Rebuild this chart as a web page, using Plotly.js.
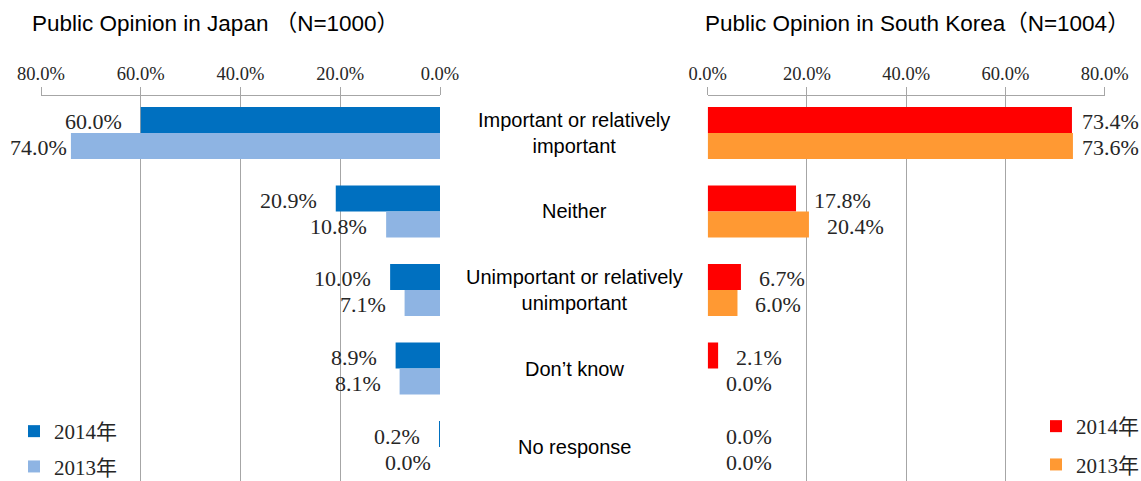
<!DOCTYPE html>
<html>
<head>
<meta charset="utf-8">
<script src="https://cdn.plot.ly/plotly-3.0.1.min.js"></script>
<style>html,body{margin:0;padding:0;background:#fff;overflow:hidden;}</style>
</head>
<body>
<div id="chart" style="width:1141px;height:481px;"></div>
<script>
// ---- data ----
const categories = ["Important or relatively important", "Neither", "Unimportant or relatively unimportant", "Don’t know", "No response"];
const categoryLabels = ["Important or relatively<br>important", "Neither", "Unimportant or relatively<br>unimportant", "Don’t know", "No response"];
const seriesNames = ["2014年", "2013年"];
const japan2014 = [60.0, 20.9, 10.0, 8.9, 0.2];
const japan2013 = [74.0, 10.8, 7.1, 8.1, 0.0];
const korea2014 = [73.4, 17.8, 6.7, 2.1, 0.0];
const korea2013 = [73.6, 20.4, 6.0, 0.0, 0.0];
const tickValues = [0, 20, 40, 60, 80];
const tickLabels = ["0.0%", "20.0%", "40.0%", "60.0%", "80.0%"];
const titleJapan = "Public Opinion in Japan （N=1000）";
const titleKorea = "Public Opinion in South Korea（N=1004）";

// ---- style ----
const W = 1141, H = 481, T = 96;
const PH = H - T; // plot height in px
const leftDom = [41 / W, 440 / W];
const rightDom = [707.7 / W, 1104.7 / W];
const gridCol = "#a6a6a6";
const serif = "Liberation Serif, Times New Roman, Noto Sans CJK JP, serif";
const sans = "Liberation Sans, Arial, Noto Sans CJK JP, sans-serif";
const colJ14 = "#0070c0", colJ13 = "#8eb4e3", colK14 = "#ff0000", colK13 = "#ff9933";
const yRange = [4.433, -0.471];
function py(pix) { return (H - pix) / PH; } // page pixel row -> paper y

function bar(x, name, color, xa, ya, leg, grp) {
  return {
    type: "bar", orientation: "h", x: x, y: categories, name: name,
    xaxis: xa, yaxis: ya, marker: {color: color, line: {width: 0}},
    legend: leg, legendgroup: grp, hoverinfo: "x+y"
  };
}

const traces = [
  bar(japan2014, seriesNames[0], colJ14, "x", "y", "legend", "j14"),
  bar(japan2013, seriesNames[1], colJ13, "x", "y", "legend", "j13"),
  bar(korea2014, seriesNames[0], colK14, "x2", "y2", "legend2", "k14"),
  bar(korea2013, seriesNames[1], colK13, "x2", "y2", "legend2", "k13")
];

function xaxisCfg(dom, range) {
  return {
    domain: dom, range: range, side: "top", anchor: "y",
    tickmode: "array", tickvals: tickValues, ticktext: tickLabels,
    ticks: "outside", ticklen: 8, tickcolor: gridCol, tickwidth: 1,
    showline: true, linecolor: gridCol, linewidth: 1,
    showgrid: true, gridcolor: gridCol, gridwidth: 1, zeroline: false,
    tickfont: {family: serif, size: 18.5, color: "#262626"}, fixedrange: true
  };
}
const yaxisCfg = {
  type: "category", range: yRange, showgrid: false, showticklabels: false,
  zeroline: false, showline: false, ticks: "", fixedrange: true
};

const annotations = [];
// titles
annotations.push({text: titleJapan, xref: "paper", yref: "paper", x: 30 / W, y: py(23),
  xanchor: "left", yanchor: "middle", showarrow: false, font: {family: sans, size: 22.5, color: "#000"}});
annotations.push({text: titleKorea, xref: "paper", yref: "paper", x: 703 / W, y: py(23),
  xanchor: "left", yanchor: "middle", showarrow: false, font: {family: sans, size: 22.5, color: "#000"}});
// category labels
categories.forEach((c, i) => {
  annotations.push({text: categoryLabels[i], xref: "paper", yref: "y", x: 574 / W, y: c,
    xanchor: "center", yanchor: "middle", showarrow: false, yshift: 0,
    font: {family: sans, size: 20, color: "#000"}});
});
// value labels
const ppuL = (leftDom[1] - leftDom[0]) * W / 80;
const ppuR = (rightDom[1] - rightDom[0]) * W / 80;
function fmt(v) { return v.toFixed(1) + "%"; }
function leftLabels(vals, yshift) {
  vals.forEach((v, i) => {
    const barEnd = 440 - v * ppuL;
    let edge = barEnd - (v === 0 ? 7 : 17);
    edge = Math.max(edge, 69);
    annotations.push({text: fmt(v), xref: "x", yref: "y", x: v, y: categories[i],
      xanchor: "right", yanchor: "middle", showarrow: false, xshift: edge - barEnd, yshift: yshift,
      font: {family: serif, size: 22, color: "#262626"}});
  });
}
function rightLabels(vals, yshift) {
  vals.forEach((v, i) => {
    const barEnd = 707.7 + v * ppuR;
    let edge = Math.min(barEnd + 16, 1080);
    annotations.push({text: fmt(v), xref: "x2", yref: "y2", x: v, y: categories[i],
      xanchor: "left", yanchor: "middle", showarrow: false, xshift: edge - barEnd, yshift: yshift,
      font: {family: serif, size: 22, color: "#262626"}});
  });
}
leftLabels(japan2014, 11);
leftLabels(japan2013, -15);
rightLabels(korea2014, 11);
rightLabels(korea2013, -15);

const legendBase = {
  orientation: "v", xanchor: "left", yanchor: "top", bgcolor: "rgba(0,0,0,0)",
  borderwidth: 0, traceorder: "grouped", font: {family: serif, size: 21, color: "#262626"},
  itemclick: false, itemdoubleclick: false
};

const layout = {
  width: W, height: H,
  margin: {l: 0, r: 0, t: T, b: 0, pad: 0, autoexpand: false},
  paper_bgcolor: "#fff", plot_bgcolor: "rgba(0,0,0,0)",
  barmode: "group", bargap: 0.338, bargroupgap: 0,
  xaxis: xaxisCfg(leftDom, [80, 0]),
  xaxis2: Object.assign(xaxisCfg(rightDom, [0, 80]), {anchor: "y2"}),
  yaxis: Object.assign({}, yaxisCfg, {domain: [0, 1], anchor: "x"}),
  yaxis2: Object.assign({}, yaxisCfg, {domain: [0, 1], anchor: "x2"}),
  legend: Object.assign({}, legendBase, {x: 14 / W, y: py(411), tracegroupgap: 5}),
  legend2: Object.assign({}, legendBase, {x: 1036 / W, y: py(406), tracegroupgap: 8}),
  showlegend: true,
  annotations: annotations
};

Plotly.newPlot("chart", traces, layout, {displayModeBar: false, staticPlot: true});
</script>
</body>
</html>
